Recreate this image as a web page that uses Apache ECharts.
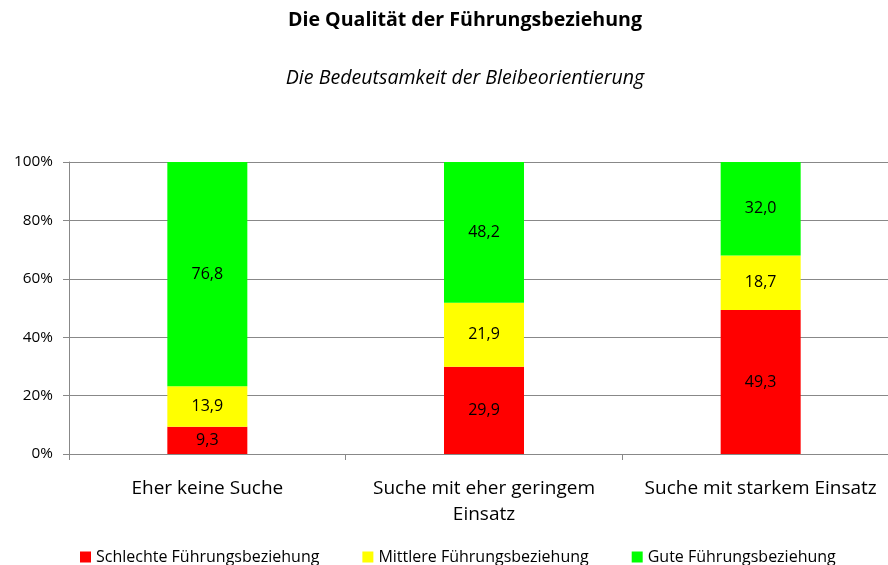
<!DOCTYPE html>
<html>
<head>
<meta charset="utf-8">
<script src="https://cdn.jsdelivr.net/npm/echarts@6/dist/echarts.min.js"></script>
<style>
  html, body { margin: 0; padding: 0; background: #fff; overflow: hidden; }
  #chart { width: 930px; height: 565px; }
</style>
</head>
<body>
<div id="chart"></div>
<script>
const categories = ["Eher keine Suche", "Suche mit eher geringem\nEinsatz", "Suche mit starkem Einsatz"];
const schlecht = [9.3, 29.9, 49.3];
const mittel = [13.9, 21.9, 18.7];
const gut = [76.8, 48.2, 32.0];
const yTicks = [0, 20, 40, 60, 80, 100];

const font = "'Open Sans', sans-serif";

function fmt(v) {
  return v.toFixed(1).replace(".", ",");
}

function makeSeries(name, data, color) {
  return {
    name: name,
    type: "bar",
    stack: "total",
    barWidth: 80,
    data: data,
    itemStyle: { color: color },
    label: {
      show: true,
      position: "inside",
      color: "#000",
      fontFamily: font,
      fontSize: 16,
      formatter: (p) => fmt(p.value),
    },
  };
}

// plot area runs a bit past the right edge of the window, like the original
const chart = echarts.init(document.getElementById("chart"));
chart.setOption({
  backgroundColor: "#fff",
  animation: false,
  title: [
    {
      text: "Die Qualität der Führungsbeziehung",
      left: "center",
      top: 5,
      textStyle: { fontFamily: font, fontSize: 19.6, fontWeight: "bold", color: "#000" },
    },
    {
      text: "Die Bedeutsamkeit der Bleibeorientierung",
      left: "center",
      top: 63,
      textStyle: { fontFamily: font, fontSize: 19.6, fontStyle: "italic", fontWeight: "normal", color: "#000" },
    },
  ],
  legend: {
    top: 544,
    left: 75,
    icon: "rect",
    itemWidth: 11,
    itemHeight: 11,
    itemGap: 43,
    textStyle: { fontFamily: font, fontSize: 16, color: "#000" },
    data: ["Schlechte Führungsbeziehung", "Mittlere Führungsbeziehung", "Gute Führungsbeziehung"],
  },
  grid: {
    left: 69,
    right: 31,
    top: 162,
    bottom: 111,
    containLabel: false,
  },
  xAxis: {
    type: "category",
    data: categories,
    axisLine: { lineStyle: { color: "#888" } },
    axisTick: { show: true, length: 6, lineStyle: { color: "#888" } },
    axisLabel: {
      interval: 0,
      fontFamily: font,
      fontSize: 19,
      color: "#000",
      margin: 22,
      lineHeight: 26,
    },
  },
  yAxis: {
    type: "value",
    min: 0,
    max: 100,
    interval: 20,
    axisLine: { show: true, lineStyle: { color: "#888" } },
    axisTick: { show: true, length: 6, lineStyle: { color: "#888" } },
    splitLine: { show: true, lineStyle: { color: "#888" } },
    axisLabel: {
      fontFamily: font,
      fontSize: 15.3,
      color: "#000",
      margin: 16,
      formatter: (v) => (yTicks.indexOf(v) >= 0 ? v + "%" : ""),
    },
  },
  series: [
    makeSeries("Schlechte Führungsbeziehung", schlecht, "#ff0000"),
    makeSeries("Mittlere Führungsbeziehung", mittel, "#ffff00"),
    makeSeries("Gute Führungsbeziehung", gut, "#00ff00"),
  ],
});
</script>
</body>
</html>
